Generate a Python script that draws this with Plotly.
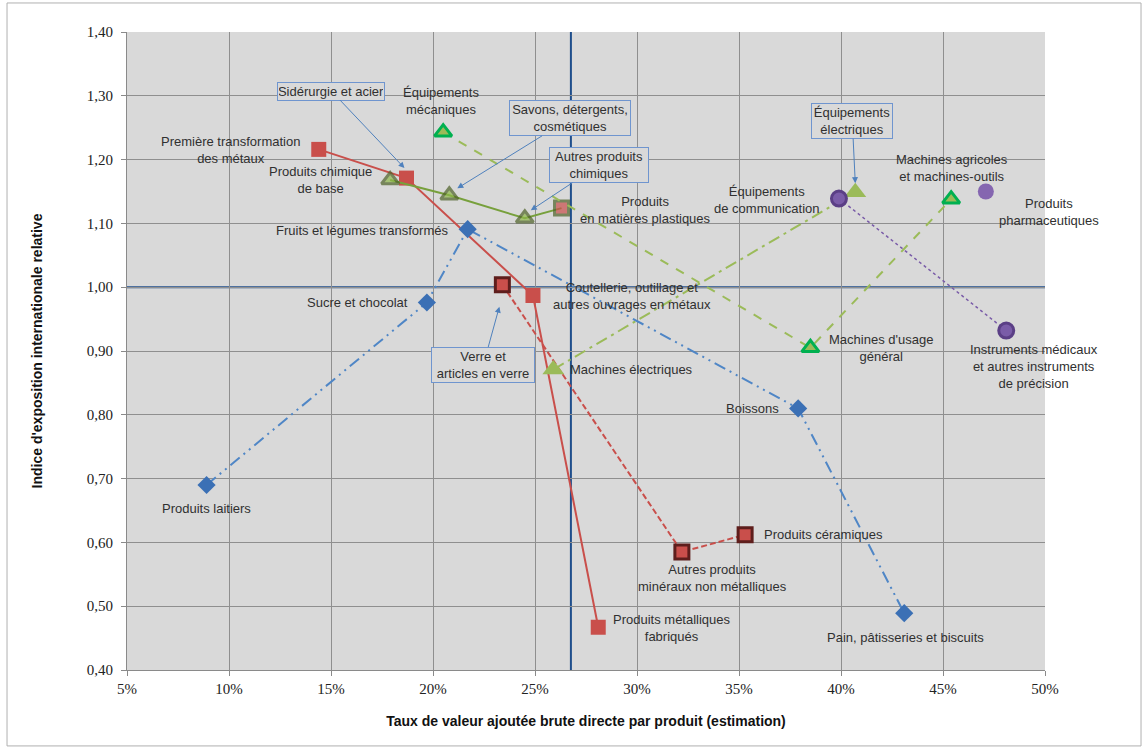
import plotly.graph_objects as go

# ---------------- data ----------------
metaux_names = ["Première transformation<br>des métaux", "Sidérurgie et acier",
                "Coutellerie, outillage et<br>autres ouvrages en métaux",
                "Produits métalliques<br>fabriqués"]
metaux_x = [14.4, 18.7, 24.9, 28.1]
metaux_y = [1.216, 1.171, 0.987, 0.467]

mineraux_names = ["Verre et<br>articles en verre", "Autres produits<br>minéraux non métalliques",
                  "Produits céramiques"]
mineraux_x = [23.4, 32.2, 35.3]
mineraux_y = [1.004, 0.585, 0.612]

chimie_names = ["Produits chimique<br>de base", "Savons, détergents,<br>cosmétiques",
                "Autres produits<br>chimiques", "Produits<br>en matières plastiques"]
chimie_x = [17.9, 20.8, 24.5, 26.3]
chimie_y = [1.168, 1.144, 1.108, 1.124]

machines_names = ["Équipements<br>mécaniques", "Machines d'usage<br>général",
                  "Machines agricoles<br>et machines-outils"]
machines_x = [20.5, 38.5, 45.4]
machines_y = [1.243, 0.905, 1.138]

elec_names = ["Machines électriques", "Équipements<br>électriques"]
elec_x = [25.9, 40.7]
elec_y = [0.871, 1.149]

instr_names = ["Équipements<br>de communication",
               "Instruments médicaux<br>et autres instruments<br>de précision"]
instr_x = [39.9, 48.1]
instr_y = [1.139, 0.932]

pharma_names = ["Produits<br>pharmaceutiques"]
pharma_x = [47.1]
pharma_y = [1.150]

agro_names = ["Produits laitiers", "Sucre et chocolat", "Fruits et légumes transformés",
              "Boissons", "Pain, pâtisseries et biscuits"]
agro_x = [8.9, 19.7, 21.7, 37.9, 43.1]
agro_y = [0.690, 0.976, 1.091, 0.810, 0.489]

ref_x = 26.76
ref_y = 1.00

x_ticks = [5, 10, 15, 20, 25, 30, 35, 40, 45, 50]
x_tick_labels = ["5%", "10%", "15%", "20%", "25%", "30%", "35%", "40%", "45%", "50%"]
y_ticks = [0.4, 0.5, 0.6, 0.7, 0.8, 0.9, 1.0, 1.1, 1.2, 1.3, 1.4]
y_tick_labels = ["0,40", "0,50", "0,60", "0,70", "0,80", "0,90", "1,00", "1,10", "1,20", "1,30", "1,40"]

# ---------------- styles ----------------
RED = "#c94f4b"
DARKRED = "#5e1e1c"
OLIVE_FILL = "#8fb84a"
OLIVE_LINE = "#4f6228"
OLIVE_PATH = "#77a03c"
GREEN_BORDER = "#00b050"
LGREEN = "#9bbb59"
PURPLE = "#7a5ca8"
PURPLE_DARK = "#5b3f86"
BLUE = "#3b70b5"
REF = "#1f4e8c"
LABEL_FONT = dict(family="Liberation Sans, Arial, sans-serif", size=13, color="#303030")
TICK_FONT = dict(family="Liberation Serif, DejaVu Serif, serif", size=15, color="#222")
TITLE_FONT = dict(family="Liberation Sans Narrow, Arial Narrow, sans-serif", size=14, color="#111")

fig = go.Figure()

fig.add_trace(go.Scatter(x=metaux_x, y=metaux_y, mode="lines+markers",
                         line=dict(color=RED, width=2),
                         marker=dict(symbol="square", size=15, color=RED)))
fig.add_trace(go.Scatter(x=mineraux_x, y=mineraux_y, mode="lines+markers",
                         line=dict(color=RED, width=2, dash="6px,3px"),
                         marker=dict(symbol="square", size=14, color=RED,
                                     line=dict(color=DARKRED, width=3))))
fig.add_trace(go.Scatter(x=chimie_x, y=chimie_y, mode="lines+markers",
                         line=dict(color=OLIVE_PATH, width=2),
                         marker=dict(symbol=["triangle-up"] * 3 + ["square"], size=[15, 15, 15, 14],
                                     color=[OLIVE_FILL] * 3 + [RED],
                                     line=dict(color=OLIVE_LINE, width=3))))
fig.add_trace(go.Scatter(x=machines_x, y=machines_y, mode="lines+markers",
                         line=dict(color=LGREEN, width=2, dash="dash"),
                         marker=dict(symbol="triangle-up", size=15, color=LGREEN,
                                     line=dict(color=GREEN_BORDER, width=3))))
fig.add_trace(go.Scatter(x=elec_x, y=elec_y, mode="lines+markers",
                         line=dict(color=LGREEN, width=2, dash="12px,5px,3px,5px"),
                         marker=dict(symbol="triangle-up", size=19, color=LGREEN)))
fig.add_trace(go.Scatter(x=instr_x, y=instr_y, mode="lines+markers",
                         line=dict(color=PURPLE, width=1.5, dash="dot"),
                         marker=dict(symbol="circle", size=15, color=PURPLE,
                                     line=dict(color=PURPLE_DARK, width=3))))
fig.add_trace(go.Scatter(x=pharma_x, y=pharma_y, mode="markers",
                         marker=dict(symbol="circle", size=16, color="#8566b0")))
fig.add_trace(go.Scatter(x=agro_x, y=agro_y, mode="lines+markers",
                         line=dict(color="#4f86c6", width=2, dash="12px,5px,2px,5px,2px,5px"),
                         marker=dict(symbol="diamond", size=14, color=BLUE)))

# ---------------- plain labels (pixel offsets from their point) ----------------
label_offsets = {
    "Première transformation<br>des métaux": (-88, -1),
    "Coutellerie, outillage et<br>autres ouvrages en métaux": (99, -1),
    "Produits métalliques<br>fabriqués": (74, -1),
    "Autres produits<br>minéraux non métalliques": (31, -26),
    "Produits céramiques": (78, 0),
    "Produits chimique<br>de base": (-70, 0),
    "Produits<br>en matières plastiques": (84, -2),
    "Équipements<br>mécaniques": (-2, 31),
    "Machines d'usage<br>général": (71, 0),
    "Machines agricoles<br>et machines-outils": (1, 31),
    "Machines électriques": (78, 0),
    "Équipements<br>de communication": (-72, -1),
    "Instruments médicaux<br>et autres instruments<br>de précision": (28, -36),
    "Produits<br>pharmaceutiques": (63, -20),
    "Produits laitiers": (0, -24),
    "Sucre et chocolat": (-69, 0),
    "Fruits et légumes transformés": (-106, -1),
    "Boissons": (-46, 0),
    "Pain, pâtisseries et biscuits": (1, -24),
}
# boxed labels with arrows: (head xshift, head yshift, ax, ay, box width)
callouts = {
    "Sidérurgie et acier": (-2, 10, -73, -77, 104),
    "Savons, détergents,<br>cosmétiques": (8, 7, 113, -70, 118),
    "Autres produits<br>chimiques": (6, 8, 68, -45, 96),
    "Équipements<br>électriques": (0, 9, -3, -62, 78),
    "Verre et<br>articles en verre": (-3, -22, -16, 58, 100),
}

all_points = []
for names, xs, ys in [(metaux_names, metaux_x, metaux_y), (mineraux_names, mineraux_x, mineraux_y),
                      (chimie_names, chimie_x, chimie_y), (machines_names, machines_x, machines_y),
                      (elec_names, elec_x, elec_y), (instr_names, instr_x, instr_y),
                      (pharma_names, pharma_x, pharma_y), (agro_names, agro_x, agro_y)]:
    all_points += list(zip(names, xs, ys))

annotations = []
for name, x, y in all_points:
    if name in label_offsets:
        dx, dy = label_offsets[name]
        annotations.append(dict(x=x, y=y, xref="x", yref="y", text=name, showarrow=False,
                                xshift=dx, yshift=dy, font=LABEL_FONT, align="center"))
    elif name in callouts:
        hx, hy, ax, ay, w = callouts[name]
        annotations.append(dict(x=x, y=y, xref="x", yref="y", text=name, showarrow=True,
                                xshift=hx, yshift=hy, ax=ax, ay=ay, axref="pixel", ayref="pixel",
                                arrowhead=2, arrowsize=1.2, arrowwidth=1, arrowcolor="#4f81bd",
                                bordercolor="#6f95cf", borderwidth=1, borderpad=1,
                                bgcolor="#d9d9d9", width=w, font=LABEL_FONT, align="center"))

shapes = [
    dict(type="line", xref="x", yref="paper", x0=ref_x, x1=ref_x, y0=0, y1=1,
         line=dict(color=REF, width=2), layer="between"),
    dict(type="line", xref="paper", yref="y", x0=0, x1=1, y0=ref_y, y1=ref_y,
         line=dict(color=REF, width=2), layer="between"),
    dict(type="rect", xref="paper", yref="paper", x0=-0.1307, x1=1.1046, y0=-0.119, y1=1.0455,
         line=dict(color="#b0b0b0", width=1), layer="below"),
]

fig.update_layout(
    width=1146, height=751,
    margin=dict(l=127, r=101, t=32, b=81),
    paper_bgcolor="white", plot_bgcolor="#d9d9d9",
    showlegend=False,
    annotations=annotations, shapes=shapes,
    xaxis=dict(range=[5, 50], tickvals=x_ticks, ticktext=x_tick_labels,
               showgrid=True, gridcolor="#8f8f8f", gridwidth=1, zeroline=False,
               showline=True, linecolor="#8a8a8a", linewidth=1,
               ticks="outside", ticklen=5, tickcolor="#8a8a8a",
               tickfont=TICK_FONT,
               title=dict(text="<b>Taux de valeur ajoutée brute directe par produit (estimation)</b>",
                          font=TITLE_FONT, standoff=20)),
    yaxis=dict(range=[0.4, 1.4], tickvals=y_ticks, ticktext=y_tick_labels,
               showgrid=True, gridcolor="#8f8f8f", gridwidth=1, zeroline=False,
               showline=True, linecolor="#8a8a8a", linewidth=1,
               ticks="outside", ticklen=5, tickcolor="#8a8a8a",
               tickfont=TICK_FONT, ticklabelstandoff=5,
               title=dict(text="<b>Indice d'exposition internationale relative</b>",
                          font=TITLE_FONT, standoff=40)),
)

fig.write_html("out.html")
